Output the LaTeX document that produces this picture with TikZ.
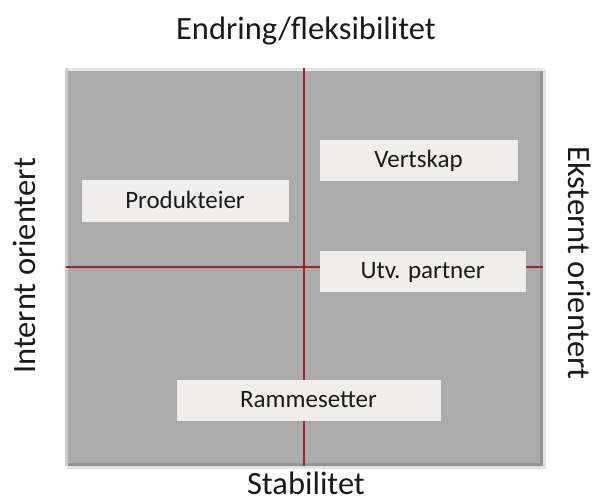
\documentclass[tikz,border=0pt]{standalone}
\usepackage{fontspec}
\setmainfont{Carlito}
\definecolor{panel}{HTML}{ABABAB}
\definecolor{panelhi}{HTML}{E6E6E6}
\definecolor{panello}{HTML}{939393}
\definecolor{axisred}{HTML}{A3222E}
\definecolor{boxfill}{HTML}{EFEEEC}
\definecolor{txt}{HTML}{1A1A1A}
\tikzset{
  rolebox/.style={fill=boxfill, draw=white!85!gray, line width=0.6pt, inner sep=0pt, text=txt,
    font=\fontsize{25}{29}\selectfont, text height=16pt, text depth=0pt},
  axis/.style={draw=axisred, line width=2pt},
  axislabel/.style={inner sep=0pt, text=txt, font=\fontsize{32.5}{39}\selectfont, text height=20pt, text depth=0pt}
}
\begin{document}
\begin{tikzpicture}[x=1pt,y=-1pt]
\useasboundingbox (0,0) rectangle (592,502);
% shadow
\fill[gray!22] (67,70) rectangle (546,469);
% panel
\fill[panel] (65,68) rectangle (543,466);
\fill[panello] (540,70) rectangle (543,466);
\fill[panello] (67,463) rectangle (543,466);
\fill[panelhi] (65,68) rectangle (543,71);
\fill[panelhi!60!panel] (65,68) rectangle (67.5,466);
\coordinate (top) at (304,68);
\coordinate (bot) at (304,466);
\coordinate (lft) at (66,267);
\coordinate (rgt) at (543,267);
\draw[axis] (top) -- (bot);
\draw[axis] (lft) -- (rgt);
\node[rolebox, minimum width=197pt, minimum height=40pt] (vert) at (418.5,160) {Vertskap};
\node[rolebox, minimum width=206pt, minimum height=41pt] (prod) at (185,201) {Produkteier};
\node[rolebox, minimum width=205pt, minimum height=40pt] (utv) at (422.5,271) {Utv. partner};
\node[rolebox, minimum width=263pt, minimum height=40pt] (ramme) at (308.5,400) {Rammesetter};
\node[axislabel] (endr) at (306,30) {Endring/fleksibilitet};
\node[axislabel] (stab) at (306,485) {Stabilitet};
\node[axislabel, rotate=90] (intern) at (25,266) {Internt orientert};
\node[axislabel, rotate=-90] (ekstern) at (578,263) {Eksternt orientert};
\end{tikzpicture}
\end{document}
